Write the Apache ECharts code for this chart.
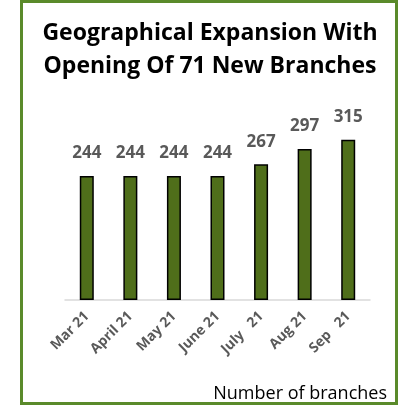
<!DOCTYPE html>
<html><head><meta charset="utf-8">
<script src="https://cdn.jsdelivr.net/npm/echarts@6/dist/echarts.min.js"></script>
<style>html,body{margin:0;padding:0;background:#fff}#c{width:401px;height:406px}</style>
</head><body><div id="c"></div>
<script>
var titleLines = ['Geographical Expansion With', 'Opening Of 71 New Branches'];
var categories = ['Mar 21', 'April 21', 'May 21', 'June 21', 'July   21', 'Aug 21', 'Sep   21'];
var branches = [244, 244, 244, 244, 267, 297, 315];
var footNote = 'Number of branches';

var chart = echarts.init(document.getElementById('c'), null, {renderer: 'canvas'});
chart.setOption({
  animation: false,
  title: {
    text: titleLines.join('\n'),
    left: 205, top: 12, textAlign: 'center',
    textStyle: {fontFamily: 'Open Sans', fontWeight: 'bold', fontSize: 23, lineHeight: 33, color: '#000'}
  },
  graphic: [
    {type: 'rect', shape: {x: 21.5, y: 1.5, width: 375, height: 402}, style: {fill: 'none', stroke: '#5A8A2A', lineWidth: 3}, z: 10},
    {type: 'text', right: 14, top: 385, style: {text: footNote, font: '18px "Open Sans"', fill: '#000'}}
  ],
  grid: {left: 65, right: 31, top: 122, bottom: 106},
  xAxis: {
    type: 'category', data: categories,
    axisLine: {lineStyle: {color: '#d9d9d9', width: 1.5}},
    axisTick: {show: false},
    axisLabel: {rotate: 45, interval: 0, margin: 14, color: '#595959', fontFamily: 'Open Sans', fontWeight: 'bold', fontSize: 14}
  },
  yAxis: {type: 'value', min: 0, max: 350, show: false, splitLine: {show: false}},
  series: [{
    type: 'bar', data: branches, barWidth: 14,
    itemStyle: {color: '#4F6E1A', borderColor: '#000', borderWidth: 1.5},
    label: {show: true, position: 'top', distance: 14, color: '#595959', fontFamily: 'Open Sans', fontWeight: 'bold', fontSize: 17}
  }]
});
</script></body></html>
